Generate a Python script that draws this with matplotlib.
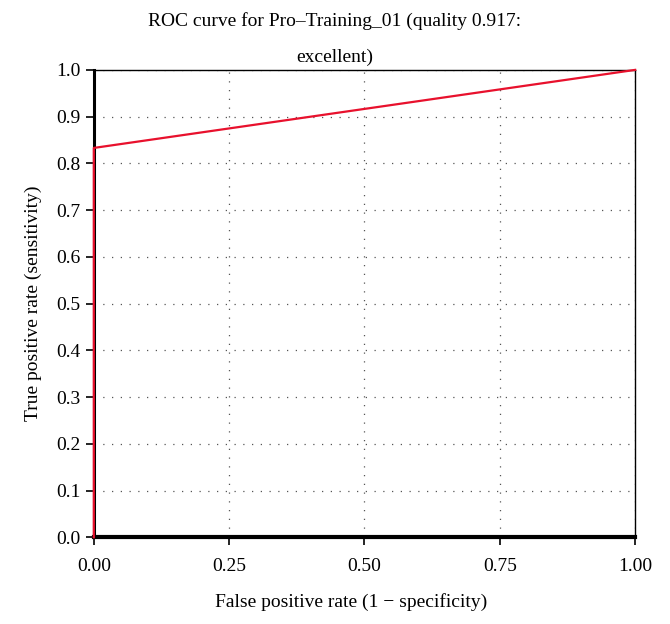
import matplotlib.pyplot as plt

fpr = [0.0, 0.0, 1.0]
tpr = [0.0, 0.833, 1.0]
xticks = [0.0, 0.25, 0.5, 0.75, 1.0]
yticks = [0.0, 0.1, 0.2, 0.3, 0.4, 0.5, 0.6, 0.7, 0.8, 0.9, 1.0]

plt.rcParams['font.family'] = ['Liberation Serif', 'DejaVu Serif']

fig = plt.figure(figsize=(6.7, 6.24), dpi=100)
ax = fig.add_axes([0.140, 0.139, 0.808, 0.749])

ax.plot(fpr, tpr, color='#e8112d', linewidth=1.6, clip_on=False, zorder=5)

ax.set_xlim(0, 1)
ax.set_ylim(0, 1)
ax.set_xticks(xticks)
ax.set_xticklabels(['%.2f' % t for t in xticks])
ax.set_yticks(yticks)
ax.set_yticklabels(['%.1f' % t for t in yticks])
ax.tick_params(labelsize=14, length=6, width=1.2, direction='out')
ax.tick_params(axis='x', pad=9)

ax.grid(True, linestyle=(0, (1, 6)), color='#555555', linewidth=0.9)
ax.spines['left'].set_linewidth(2.2)
ax.spines['bottom'].set_linewidth(3)
ax.spines['top'].set_linewidth(1)
ax.spines['right'].set_linewidth(1)

fig.text(0.5, 0.938, "ROC curve for Pro\u2013Training_01 (quality 0.917:\nexcellent)",
         fontsize=14, linespacing=2.4, ha='center', va='center')
ax.set_xlabel("False positive rate (1 \u2212 specificity)", fontsize=14)
ax.xaxis.set_label_coords(0.476, -0.12)
ax.set_ylabel("True positive rate (sensitivity)", fontsize=14, labelpad=10)

fig.savefig("out.png", dpi=100)
